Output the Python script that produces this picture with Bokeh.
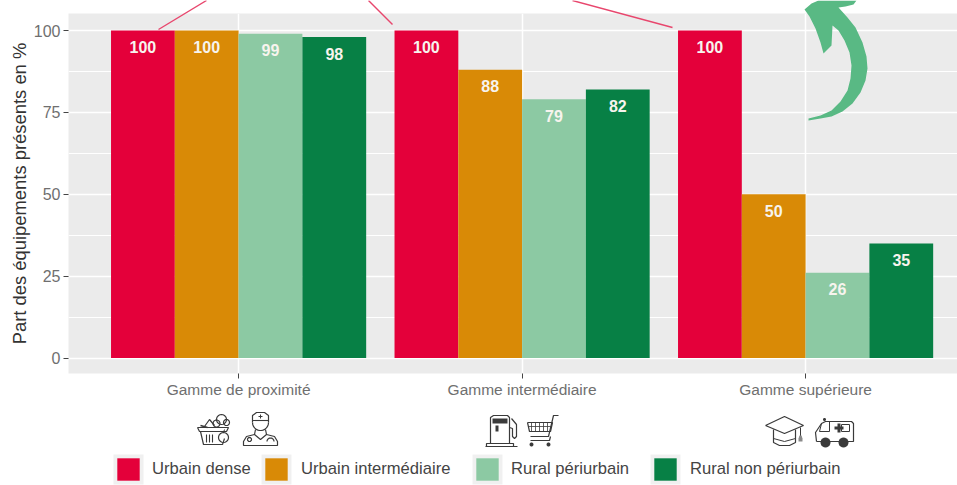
import math
from bokeh.core.properties import value
from bokeh.embed import file_html
from bokeh.layouts import column
from bokeh.models import ColumnDataSource, FixedTicker, Legend, LegendItem, Range1d
from bokeh.plotting import figure
from bokeh.resources import INLINE

categories = ["Gamme de proximité", "Gamme intermédiaire", "Gamme supérieure"]
series_names = ["Urbain dense", "Urbain intermédiaire", "Rural périurbain", "Rural non périurbain"]
urbain_dense = [100, 100, 100]
urbain_intermediaire = [100, 88, 50]
rural_periurbain = [99, 79, 26]
rural_non_periurbain = [98, 82, 35]
y_ticks = [0, 25, 50, 75, 100]

series = [urbain_dense, urbain_intermediaire, rural_periurbain, rural_non_periurbain]
colors = ["#e4003a", "#d98a06", "#8cc9a3", "#078045"]
positions = [1, 2, 3]
offsets = [-0.3375, -0.1125, 0.1125, 0.3375]
bar_w = 0.225

W, H = 957, 485
L, R, T, B = 68, 957, 13, 373

p = figure(width=W, height=H, output_backend="svg", toolbar_location=None,
           x_range=Range1d(0.4, 0.4 + (R - L) / 283.5),
           y_range=Range1d(100 + (30 - B) / 3.275, 100 + (30 - T) / 3.275),
           min_border_left=L, min_border_right=W - R, min_border_top=T, min_border_bottom=H - B)
p.outline_line_color = None
p.background_fill_color = "#ebebeb"
p.border_fill_color = "white"

p.xgrid.ticker = FixedTicker(ticks=positions)
p.xgrid.grid_line_color = "white"
p.xgrid.grid_line_width = 1.5
p.ygrid.ticker = FixedTicker(ticks=y_ticks, minor_ticks=[12.5, 37.5, 62.5, 87.5])
p.ygrid.grid_line_color = "white"
p.ygrid.grid_line_width = 1.5
p.ygrid.minor_grid_line_color = "white"
p.ygrid.minor_grid_line_width = 1

p.xaxis.ticker = FixedTicker(ticks=positions)
p.xaxis.major_label_overrides = dict(zip(positions, categories))
p.yaxis.ticker = FixedTicker(ticks=y_ticks)
for ax in (p.xaxis[0], p.yaxis[0]):
    ax.axis_line_color = None
    ax.minor_tick_line_color = None
    ax.major_tick_line_color = "#444444"
    ax.major_tick_out = 5
    ax.major_tick_in = 0
    ax.major_label_text_color = "#6f6f6f"
    ax.major_label_text_font = "Liberation Sans"
p.xaxis.major_label_text_font_size = "15.5px"
p.xaxis.major_label_standoff = 2
p.yaxis.major_label_text_font_size = "16px"
p.yaxis.major_label_standoff = 3
p.yaxis.axis_label = "Part des équipements présents en %"
p.yaxis.axis_label_text_font = "Liberation Sans"
p.yaxis.axis_label_text_font_style = "normal"
p.yaxis.axis_label_text_font_size = "18.4px"
p.yaxis.axis_label_text_color = "#333333"
p.yaxis.axis_label_standoff = 1

for vals, off, col in zip(series, offsets, colors):
    src = ColumnDataSource(dict(x=[c + off for c in positions], top=vals, label=[str(v) for v in vals]))
    p.vbar(x="x", top="top", bottom=0, width=bar_w, source=src, fill_color=col, line_color=None)
    p.text(x="x", y="top", text="label", source=src, text_color="#f7f4ee", text_align="center",
           text_baseline="middle", y_offset=16.5, text_font=value("Liberation Sans"),
           text_font_style="bold", text_font_size="16px")

# Transparent overlay in pixel coordinates: everything that lies outside the panel.
# A column aligns the frames of its figures, so the overlay's x range starts at the panel's left edge.
o = figure(width=W, height=H, output_backend="svg", toolbar_location=None,
           x_range=Range1d(L, R), y_range=Range1d(H, 0),
           min_border=0, min_border_left=0, min_border_right=0, min_border_top=0, min_border_bottom=0)
o.margin = (-H, 0, 0, 0)
o.xaxis.visible = False
o.yaxis.visible = False
o.xgrid.visible = False
o.ygrid.visible = False
o.outline_line_color = None
o.background_fill_alpha = 0
o.border_fill_alpha = 0

INK = "#3a3a3a"


def path(pts, lw=1.2, col=INK):
    o.line([a for a, _ in pts], [b for _, b in pts], line_color=col, line_width=lw)


def shape(pts, fill=INK):
    o.patch([a for a, _ in pts], [b for _, b in pts], fill_color=fill, line_color=None)


def ring(cx, cy, r, fill=None, lw=1.2, col=INK, start=0, end=360):
    n = 20
    pts = [(cx + r * math.cos(math.radians(start + (end - start) * i / n)),
            cy + r * math.sin(math.radians(start + (end - start) * i / n))) for i in range(n + 1)]
    if fill:
        shape(pts, fill)
    else:
        path(pts, lw, col)


# connector lines leaving the top of the picture
link = "#e8466d"
path([(158, 29), (206, 0)], 1.4, link)
path([(392, 24), (368, 0)], 1.4, link)
path([(672, 27), (572, 0)], 1.4, link)

# green arrow
shape([(804, 9), (811, 3), (818, 0), (856, 0), (853, 4), (845, 6), (838, 7), (847, 17), (855, 27), (862, 42),
       (866, 56), (867, 68), (865, 80), (860, 92), (852, 103), (842, 111), (831, 116), (820, 118), (808, 120),
       (808, 118), (820, 115), (831, 110), (840, 101), (847, 90), (850, 78), (851, 65), (849, 52), (844, 40),
       (838, 30), (832, 25), (831, 45), (823, 53), (820, 42), (815, 28), (809, 16)], "#59b984")

# basket
path([(197, 427), (228, 427), (226, 431), (199, 431), (197, 427)])
path([(200, 431), (203, 444), (222, 444), (224, 438)])
for bx in (206, 209, 212):
    path([(bx, 434), (bx, 442)], 1.1)
ring(223, 437, 5)
path([(223, 432), (224, 429)], 1)
ring(221, 419, 5)
ring(216, 423, 3.5)
ring(226, 422, 3)
path([(204, 426), (209, 419), (214, 425)])
path([(200, 425), (207, 427)], 1.6)

# doctor
ring(260, 422, 8, start=0, end=180)
path([(252, 422), (252, 415), (256, 412), (264, 412), (268, 415), (268, 422)])
path([(252, 420), (268, 420)], 1.1)
path([(260, 414), (260, 418)], 1)
path([(258, 416), (262, 416)], 1)
path([(255, 429), (254, 434), (260, 439), (266, 434), (265, 429)])
path([(254, 434), (246, 436), (243, 441), (243, 445), (277, 445), (277, 441), (274, 436), (266, 434)])
ring(249, 439, 2)
ring(270, 441, 3.5, start=180, end=360)

# fuel pump
path([(490, 443), (490, 417), (493, 415), (507, 415), (509, 417), (509, 443)])
shape([(492, 418), (507, 418), (507, 423), (492, 423)])
shape([(495, 425), (498, 425), (498, 431), (495, 431)])
path([(486, 446), (486, 443), (513, 443), (513, 446)])
path([(485, 446), (517, 446)], 1)
path([(511, 418), (516, 424), (516, 436), (514, 438), (512, 436), (512, 428), (509, 427)])

# shopping cart
path([(558, 415), (553, 415), (548, 436), (530, 436)])
path([(527, 422), (552, 422), (550, 431), (529, 431), (527, 422)])
for cx in (531, 535, 539, 543, 547):
    path([(cx, 422), (cx, 431)], 0.8)
path([(528, 426), (551, 426)], 0.8)
path([(530, 440), (549, 440), (550, 436)])
ring(531, 444, 2, fill=INK)
ring(548, 444, 2, fill=INK)

# graduation cap
path([(765, 425), (784, 416), (803, 425), (784, 433), (765, 425)])
path([(773, 429), (773, 442), (779, 445), (789, 445), (795, 442), (795, 429)])
path([(773, 438), (784, 441), (795, 438)], 1)
path([(800, 427), (800, 436)], 1)
shape([(799, 435), (801, 435), (802, 438), (802, 441), (798, 441), (798, 438)], "#8a8a8a")

# ambulance
path([(816, 441), (815, 432), (821, 423), (825, 421), (851, 421), (853, 423), (853, 441), (816, 441)])
path([(821, 423), (819, 431), (829, 431), (829, 421)], 1)
shape([(834, 426), (837, 426), (837, 423), (840, 423), (840, 426), (843, 426), (843, 429), (840, 429),
       (840, 432), (837, 432), (837, 429), (834, 429)])
path([(841, 424), (849, 424), (849, 431), (841, 431), (841, 424)], 1)
ring(825, 442, 5, fill=INK)
ring(843, 442, 5, fill=INK)
ring(824, 419, 1.5, fill=INK)

# legend
key_lefts = [116, 264, 475, 653]
label_lefts = [152, 301, 511, 690]
for kl in key_lefts:
    shape([(kl - 3, 454), (kl + 27, 454), (kl + 27, 484), (kl - 3, 484)], "#f0f0f0")

for kl, ll, name, col in zip(key_lefts, label_lefts, series_names, colors):
    r = o.vbar(x=[float("nan")], top=[float("nan")], width=1, fill_color=col, line_color=None)
    leg = Legend(items=[LegendItem(label=name, renderers=[r])], location=(kl - 2 - L, H - 483),
                 orientation="horizontal", glyph_width=28, glyph_height=28, label_standoff=ll - kl - 26,
                 padding=0, margin=0, border_line_color=None, background_fill_alpha=0,
                 label_text_font="Liberation Sans", label_text_font_size="16.6px", label_text_color="#444444")
    o.add_layout(leg)

page = column(p, o, spacing=0)
open("out.html", "w").write(file_html(page, INLINE))
